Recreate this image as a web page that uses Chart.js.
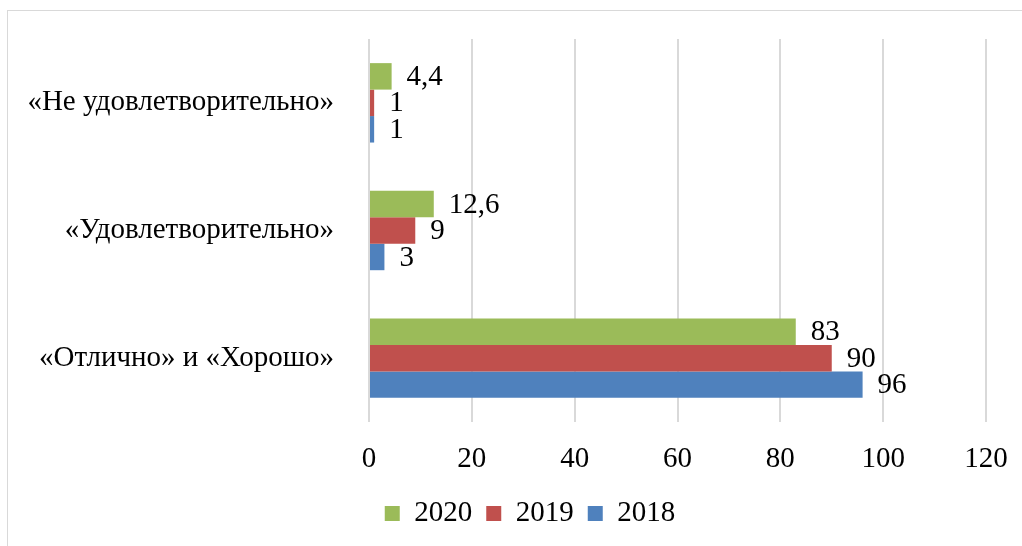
<!DOCTYPE html>
<html>
<head>
<meta charset="utf-8">
<script src="https://cdn.jsdelivr.net/npm/chart.js@4/dist/chart.umd.min.js"></script>
<style>
  body { margin: 0; background: #fff; }
  canvas { display: block; }
</style>
</head>
<body>
<canvas id="chart" width="1022" height="546"></canvas>
<script>
var categories = ['«Не удовлетворительно»', '«Удовлетворительно»', '«Отлично» и «Хорошо»'];
var years = ['2020', '2019', '2018'];
var values2020 = [4.4, 12.6, 83];
var values2019 = [1, 9, 90];
var values2018 = [1, 3, 96];
var xTicks = [0, 20, 40, 60, 80, 100, 120];

var serif = '"Liberation Serif", "Times New Roman", serif';

// frame around the chart, like the Word/Excel chart box
var framePlugin = {
    id: 'frame',
    beforeDraw: function (chart) {
        var c = chart.ctx;
        c.save();
        c.strokeStyle = '#d9d9d9';
        c.lineWidth = 1;
        c.strokeRect(7.5, 10.5, 1200, 700);
        c.restore();
    }
};

// legend in the original sits a bit right of the canvas centre
var legendShift = {
    id: 'legendShift',
    afterLayout: function (chart) {
        chart.legend.left += 74;
    }
};

// value labels to the right of each bar, comma as decimal mark
var valueLabels = {
    id: 'valueLabels',
    afterDatasetsDraw: function (chart) {
        var c = chart.ctx;
        c.save();
        c.font = '29px ' + serif;
        c.fillStyle = '#000';
        c.textAlign = 'left';
        c.textBaseline = 'middle';
        chart.data.datasets.forEach(function (ds, i) {
            chart.getDatasetMeta(i).data.forEach(function (bar, j) {
                var txt = String(ds.data[j]).replace('.', ',');
                c.fillText(txt, bar.x + 15, bar.y + 1);
            });
        });
        c.restore();
    }
};

var ctx = document.getElementById('chart');

var chartGraph = new Chart(ctx, {
    type: 'bar',
    data: {
        labels: categories,
        datasets: [{
            label: years[0],
            data: values2020,
            backgroundColor: '#9BBB59'
        }, {
            label: years[1],
            data: values2019,
            backgroundColor: '#C0504D'
        }, {
            label: years[2],
            data: values2018,
            backgroundColor: '#4F81BD'
        }]
    },
    options: {
        indexAxis: 'y',
        responsive: false,
        animation: false,
        layout: {
            padding: { top: 39, right: 36, bottom: 8, left: 0 }
        },
        datasets: {
            bar: {
                categoryPercentage: 0.622,
                barPercentage: 1,
                borderWidth: 0
            }
        },
        scales: {
            x: {
                min: 0,
                max: 120,
                afterBuildTicks: function (scale) {
                    scale.ticks = xTicks.map(function (v) { return { value: v }; });
                },
                afterFit: function (scale) {
                    scale.height = 63;
                    scale.paddingLeft = 0;
                    scale.paddingRight = 0;
                },
                grid: { color: '#d9d9d9', lineWidth: 2, drawTicks: false },
                border: { display: false },
                ticks: {
                    padding: 20,
                    color: '#000',
                    font: { family: serif, size: 29 }
                }
            },
            y: {
                afterFit: function (scale) {
                    scale.width = 369;
                    scale.paddingTop = 0;
                    scale.paddingBottom = 0;
                },
                grid: { display: false, drawTicks: false },
                border: { display: false },
                ticks: {
                    padding: 35,
                    color: '#000',
                    font: { family: serif, size: 29 }
                }
            }
        },
        plugins: {
            legend: {
                position: 'bottom',
                labels: {
                    boxWidth: 15,
                    boxHeight: 15,
                    padding: 14,
                    color: '#000',
                    font: { family: serif, size: 29 }
                }
            },
            tooltip: { enabled: false }
        }
    },
    plugins: [framePlugin, legendShift, valueLabels]
});
</script>
</body>
</html>
